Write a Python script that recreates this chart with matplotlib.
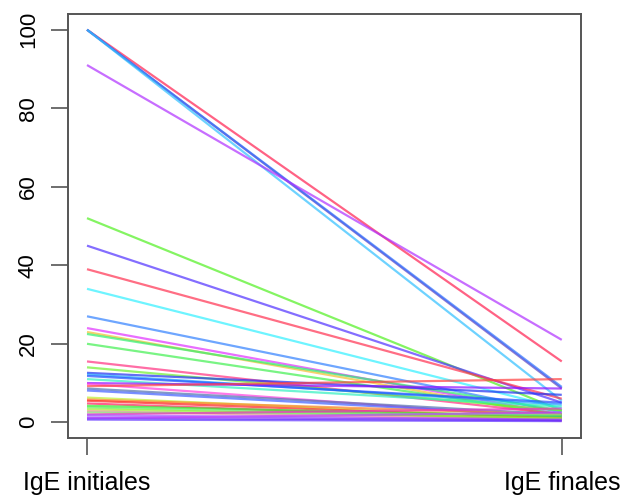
import matplotlib
matplotlib.use("Agg")
import matplotlib.pyplot as plt

plt.rcParams['font.family'] = ['Liberation Sans', 'DejaVu Sans']

# paired IgE values: initial -> final
ige_initiales = [100, 100, 100, 100, 91, 52, 45, 39, 34, 27, 24, 23, 22.5, 20,
                 15.5, 14, 12.6, 12.2, 11.8, 11, 10, 9.8, 9.2, 8.6, 8.1,
                 6.3, 5.8, 5.5, 4.8, 4.2, 3.8, 3.3, 2.8, 2.5, 2, 1.8, 1.2, 1, 0.7]
ige_finales = [15.5, 8.6, 9, 5.5, 21, 3, 5, 6, 3.5, 2.5, 2, 1.5, 3, 2,
               2, 3, 7, 4.5, 5, 4, 8.6, 1, 11, 2, 1.5,
               1, 2, 1, 0.5, 1.5, 0.8, 1, 0.5, 2, 3.5, 0.7, 0.5, 2.5, 0.3]
couleurs = ['#FF2050', '#6040C0', '#3070FF', '#30C0FF', '#B030FF', '#50F020',
            '#5030FF', '#FF3050', '#30F0FF', '#3080FF', '#E030FF', '#F0C030',
            '#30F070', '#40F050', '#FF3080', '#70F030', '#2030F0', '#20A0FF',
            '#2050FF', '#30F0C0', '#9010FF', '#FF40E0', '#FF4040', '#5070B0',
            '#4060FF', '#C0F030', '#FF8030', '#FF2020', '#FF2060', '#30F030',
            '#60F060', '#A0F030', '#FF80A0', '#80F080', '#F030C0', '#A050FF',
            '#8030FF', '#C040FF', '#6030FF']

fig = plt.figure(figsize=(6.2, 4.97), dpi=100)
ax = fig.add_axes([0.1097, 0.1187, 0.827, 0.8531])

for a, b, c in zip(ige_initiales, ige_finales, couleurs):
    ax.plot([1, 2], [a, b], color=c, alpha=0.7, linewidth=1.6,
            solid_capstyle='butt')

ax.set_xlim(0.96, 2.04)
ax.set_ylim(-4, 104)
ax.set_xticks([1, 2])
ax.set_xticklabels(['IgE initiales', 'IgE finales'], fontsize=18)
ax.set_yticks([0, 20, 40, 60, 80, 100])
ax.set_yticklabels(['0', '20', '40', '60', '80', '100'], fontsize=16,
                   rotation=90, va='center')

for s in ax.spines.values():
    s.set_color('#555555')
    s.set_linewidth(1.4)
ax.tick_params(axis='both', length=12, width=1.2, color='#555555')
ax.tick_params(axis='y', pad=9)
ax.tick_params(axis='x', pad=12)

fig.savefig('out.png', dpi=100)
